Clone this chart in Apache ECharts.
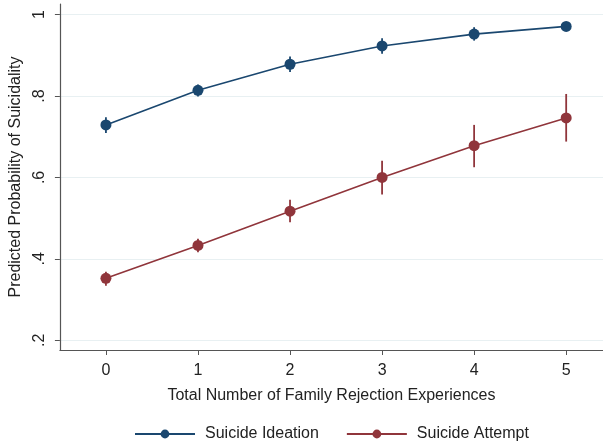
<!DOCTYPE html>
<html>
<head>
<meta charset="utf-8">
<script src="https://cdn.jsdelivr.net/npm/echarts@6/dist/echarts.min.js"></script>
<style>
  html, body { margin: 0; padding: 0; background: #fff; }
  #chart { width: 603px; height: 442px; }
</style>
</head>
<body>
<div id="chart"></div>
<script>
  // values
  var rejections = [0, 1, 2, 3, 4, 5];
  var ideation = [0.729, 0.814, 0.878, 0.923, 0.952, 0.971];
  var ideationLo = [0.709, 0.799, 0.859, 0.904, 0.936, 0.961];
  var ideationHi = [0.748, 0.828, 0.897, 0.942, 0.969, 0.981];
  var attempt = [0.352, 0.433, 0.517, 0.600, 0.678, 0.746];
  var attemptLo = [0.334, 0.416, 0.490, 0.558, 0.625, 0.688];
  var attemptHi = [0.368, 0.449, 0.545, 0.641, 0.729, 0.805];
  var yTicks = [0.2, 0.4, 0.6, 0.8, 1];
  var yTickLabels = ['.2', '.4', '.6', '.8', '1'];

  var blue = '#1a476f';
  var red = '#90353b';
  var font = 'Liberation Sans, Arial, sans-serif';

  function pairs(ys) {
    return rejections.map(function (x, i) { return [x, ys[i]]; });
  }

  function errorBars(lo, hi) {
    return rejections.map(function (x, i) { return [x, lo[i], hi[i]]; });
  }

  function barRenderer(color) {
    return function (params, api) {
      var a = api.coord([api.value(0), api.value(1)]);
      var b = api.coord([api.value(0), api.value(2)]);
      return {
        type: 'line',
        shape: { x1: a[0], y1: a[1], x2: b[0], y2: b[1] },
        style: { stroke: color, lineWidth: 1.8 }
      };
    };
  }

  var chart = echarts.init(document.getElementById('chart'));
  chart.setOption({
    animation: false,
    textStyle: { fontFamily: font },
    grid: { left: 53.5, right: 0, top: 4, bottom: 92 },
    legend: {
      left: 129,
      top: 421,
      itemWidth: 60,
      itemHeight: 11,
      itemGap: 27,
      textStyle: { fontSize: 16, color: '#222', fontFamily: font, padding: [0, 0, 0, 5] },
      data: ['Suicide Ideation', 'Suicide Attempt']
    },
    xAxis: {
      type: 'value',
      min: -0.5,
      max: 5.4,
      name: 'Total Number of Family Rejection Experiences',
      nameLocation: 'middle',
      nameGap: 38,
      nameTextStyle: { fontSize: 16, color: '#222', fontFamily: font },
      axisLine: { show: true, onZero: false, lineStyle: { color: '#555', width: 1.2 } },
      axisTick: { show: true, length: 5, customValues: rejections, lineStyle: { color: '#555' } },
      axisLabel: { customValues: rejections, margin: 13, fontSize: 16, color: '#222' },
      splitLine: { show: false }
    },
    yAxis: {
      type: 'value',
      min: 0.176,
      max: 1.026,
      name: 'Predicted Probability of Suicidality',
      nameLocation: 'middle',
      nameGap: 34,
      nameTextStyle: { fontSize: 16, color: '#222', fontFamily: font },
      axisLine: { show: true, onZero: false, lineStyle: { color: '#555', width: 1.2 } },
      axisTick: { show: true, length: 5, customValues: yTicks, lineStyle: { color: '#555' } },
      axisLabel: {
        customValues: yTicks,
        rotate: 90,
        margin: 12,
        fontSize: 16,
        color: '#222',
        formatter: function (v) {
          var i = yTicks.findIndex(function (t) { return Math.abs(t - v) < 1e-6; });
          return i >= 0 ? yTickLabels[i] : '';
        }
      },
      splitLine: { show: true, lineStyle: { color: '#e8f0f2', width: 1.2 } }
    },
    series: [
      {
        name: 'Suicide Ideation',
        type: 'line',
        data: pairs(ideation),
        symbol: 'circle',
        symbolSize: 11,
        lineStyle: { color: blue, width: 1.6 },
        itemStyle: { color: blue },
        z: 3
      },
      {
        name: 'Suicide Attempt',
        type: 'line',
        data: pairs(attempt),
        symbol: 'circle',
        symbolSize: 11,
        lineStyle: { color: red, width: 1.6 },
        itemStyle: { color: red },
        z: 3
      },
      {
        name: 'Suicide Ideation',
        type: 'custom',
        renderItem: barRenderer(blue),
        data: errorBars(ideationLo, ideationHi),
        z: 2
      },
      {
        name: 'Suicide Attempt',
        type: 'custom',
        renderItem: barRenderer(red),
        data: errorBars(attemptLo, attemptHi),
        z: 2
      }
    ]
  });
</script>
</body>
</html>
